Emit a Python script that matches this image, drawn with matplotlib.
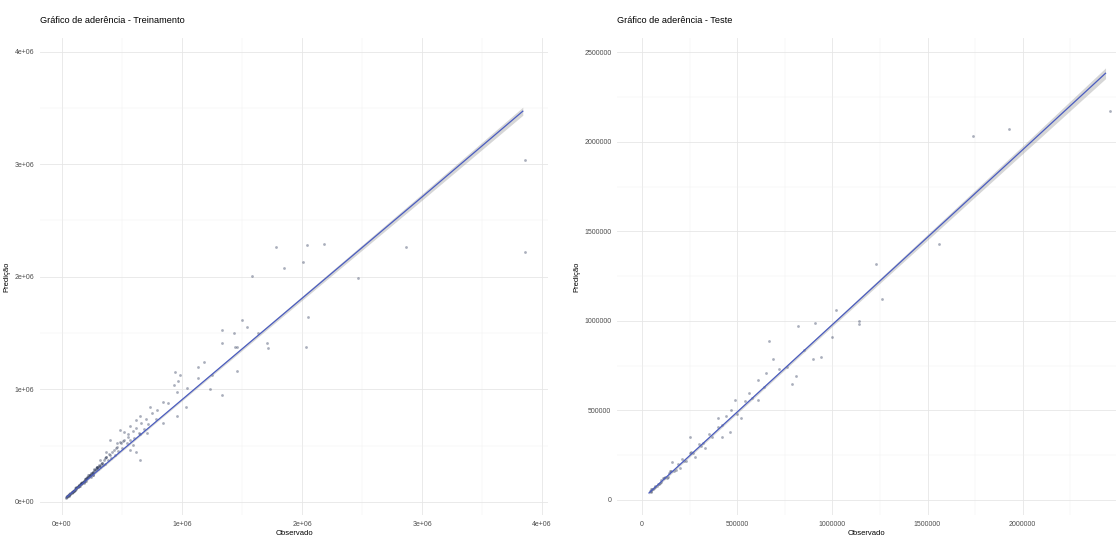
import numpy as np
import matplotlib
matplotlib.use("Agg")
import matplotlib.pyplot as plt
from matplotlib.ticker import FixedLocator, FixedFormatter

plt.rcParams['font.family'] = ['Liberation Sans', 'DejaVu Sans']

# ---------------- data (values in millions) ----------------
train_obs = [0.03, 0.04, 0.05, 0.05, 0.06, 0.06, 0.07, 0.07, 0.08, 0.08, 0.09, 0.09, 0.10, 0.10,
             0.11, 0.11, 0.12, 0.12, 0.13, 0.13, 0.14, 0.14, 0.15, 0.15, 0.16, 0.16, 0.17, 0.17,
             0.18, 0.18, 0.19, 0.19, 0.20, 0.20, 0.21, 0.22, 0.22, 0.23, 0.24, 0.24, 0.25, 0.26,
             0.26, 0.27, 0.28, 0.29, 0.30, 0.31, 0.32, 0.33, 0.34, 0.35, 0.36, 0.37, 0.38, 0.40,
             0.41, 0.43, 0.44, 0.46, 0.47, 0.49, 0.50, 0.52, 0.54, 0.55, 0.57, 0.59, 0.60, 0.62,
             0.64, 0.66, 0.68, 0.70, 0.72, 0.75, 0.78,
             0.035, 0.045, 0.055, 0.065, 0.075, 0.085, 0.095, 0.105, 0.115, 0.125, 0.135, 0.145,
             0.155, 0.165, 0.175, 0.185, 0.195, 0.205, 0.215, 0.225, 0.235, 0.245, 0.255, 0.265,
             0.275, 0.285, 0.295, 0.305, 0.315, 0.325, 0.04, 0.06, 0.08, 0.10, 0.12, 0.14, 0.16,
             0.18, 0.20, 0.23, 0.26, 0.29, 0.33, 0.36, 0.39, 0.42, 0.45, 0.48, 0.51, 0.55,
             0.26, 0.29, 0.32, 0.37, 0.37, 0.40, 0.46, 0.48, 0.52, 0.57, 0.57, 0.59, 0.62, 0.62,
             0.65, 0.65, 0.65, 0.71, 0.73, 0.79, 0.84, 0.84, 0.88, 0.96, 1.03,
             0.93, 0.94, 0.96, 0.97, 0.98, 1.04, 1.13, 1.13, 1.18, 1.23, 1.25, 1.33, 1.46,
             1.33, 1.43, 1.46, 1.50, 1.54, 1.63, 1.33, 1.44, 1.71, 1.72, 1.58, 1.78, 1.85,
             2.01, 2.04, 2.18, 2.03, 2.05, 2.47, 2.87, 3.86, 3.86]
train_pred = [0.04, 0.05, 0.05, 0.06, 0.06, 0.07, 0.07, 0.08, 0.08, 0.09, 0.09, 0.10, 0.10, 0.11,
              0.11, 0.12, 0.12, 0.13, 0.13, 0.14, 0.14, 0.15, 0.16, 0.14, 0.16, 0.17, 0.17, 0.18,
              0.19, 0.17, 0.19, 0.20, 0.21, 0.19, 0.22, 0.22, 0.24, 0.23, 0.25, 0.22, 0.26, 0.27,
              0.24, 0.29, 0.28, 0.31, 0.29, 0.33, 0.31, 0.35, 0.33, 0.37, 0.34, 0.40, 0.37, 0.42,
              0.39, 0.46, 0.42, 0.49, 0.45, 0.52, 0.48, 0.55, 0.52, 0.58, 0.55, 0.63, 0.57, 0.66,
              0.61, 0.70, 0.65, 0.74, 0.69, 0.79, 0.74,
              0.035, 0.05, 0.055, 0.07, 0.075, 0.09, 0.095, 0.11, 0.115, 0.13, 0.135, 0.15,
              0.155, 0.17, 0.18, 0.19, 0.20, 0.21, 0.22, 0.235, 0.24, 0.255, 0.26, 0.28,
              0.28, 0.30, 0.30, 0.32, 0.32, 0.34, 0.045, 0.06, 0.085, 0.10, 0.125, 0.14, 0.165,
              0.18, 0.205, 0.24, 0.27, 0.31, 0.35, 0.39, 0.43, 0.44, 0.48, 0.53, 0.54, 0.60,
              0.24, 0.31, 0.37, 0.44, 0.40, 0.55, 0.52, 0.64, 0.62, 0.46, 0.67, 0.51, 0.44, 0.73,
              0.37, 0.60, 0.76, 0.61, 0.84, 0.82, 0.89, 0.70, 0.88, 0.76, 0.84,
              1.04, 1.15, 0.98, 1.07, 1.13, 1.01, 1.20, 1.10, 1.24, 1.00, 1.13, 0.95, 1.16,
              1.53, 1.50, 1.38, 1.62, 1.55, 1.50, 1.41, 1.38, 1.41, 1.37, 2.01, 2.26, 2.08,
              2.13, 2.28, 2.29, 1.38, 1.64, 1.99, 2.26, 3.04, 2.22]

test_obs = [0.04, 0.05, 0.05, 0.06, 0.07, 0.07, 0.08, 0.09, 0.10, 0.10, 0.11, 0.12, 0.13, 0.14,
            0.15, 0.16, 0.17, 0.19, 0.20, 0.21, 0.23, 0.25, 0.25, 0.27, 0.28, 0.30, 0.32, 0.33,
            0.35, 0.37, 0.40, 0.40, 0.42, 0.42, 0.44, 0.46, 0.47, 0.49, 0.50, 0.52, 0.54, 0.56,
            0.58, 0.61, 0.61, 0.64, 0.65, 0.67, 0.69, 0.72, 0.76, 0.79, 0.81, 0.82, 0.85, 0.90,
            0.91, 0.94, 1.00, 1.02, 1.14, 1.14, 1.23, 1.26, 1.56, 1.74, 1.93, 2.46,
            0.045, 0.055, 0.065, 0.085, 0.095, 0.115, 0.135, 0.155, 0.18, 0.22, 0.26, 0.31]
test_pred = [0.05, 0.05, 0.06, 0.06, 0.07, 0.08, 0.08, 0.09, 0.10, 0.11, 0.12, 0.13, 0.12, 0.15,
             0.16, 0.21, 0.16, 0.20, 0.18, 0.23, 0.22, 0.26, 0.35, 0.26, 0.24, 0.31, 0.32, 0.29,
             0.37, 0.35, 0.41, 0.46, 0.42, 0.35, 0.47, 0.38, 0.50, 0.56, 0.48, 0.46, 0.55, 0.60,
             0.57, 0.67, 0.56, 0.63, 0.71, 0.89, 0.79, 0.73, 0.74, 0.65, 0.69, 0.97, 0.84, 0.79,
             0.99, 0.80, 0.91, 1.06, 0.98, 1.00, 1.32, 1.12, 1.43, 2.03, 2.07, 2.17,
             0.045, 0.06, 0.065, 0.09, 0.095, 0.12, 0.13, 0.16, 0.17, 0.22, 0.27, 0.30]

# fitted line (geom_smooth lm), with CI half-width
train_fit_obs = [0.04, 1.0, 2.0, 3.0, 3.84]
train_fit_pred = [0.044, 0.908, 1.808, 2.708, 3.47]
train_fit_half = [0.008, 0.010, 0.018, 0.028, 0.036]
test_fit_obs = [0.037, 1.0, 2.0, 2.435]
test_fit_pred = [0.039, 0.979, 1.956, 2.383]
test_fit_half = [0.007, 0.010, 0.022, 0.030]

train_ticks = [0, 1, 2, 3, 4]
train_ticklabels = ["0e+00", "1e+06", "2e+06", "3e+06", "4e+06"]
test_ticks = [0, 0.5, 1.0, 1.5, 2.0, 2.5]
test_ticklabels = ["0", "500000", "1000000", "1500000", "2000000", "2500000"]

titles = ["Gráfico de aderência - Treinamento", "Gráfico de aderência - Teste"]

# ---------------- figure ----------------
W, H = 1119, 537
fig = plt.figure(figsize=(W / 100, H / 100), dpi=100)
fig.patch.set_facecolor("white")


def px_axes(x0, y0, x1, y1):
    return fig.add_axes([x0 / W, 1 - y1 / H, (x1 - x0) / W, (y1 - y0) / H])


axL = px_axes(40, 38, 548, 515)
axR = px_axes(617, 38, 1116, 515)

panels = [
    (axL, train_obs, train_pred, train_fit_obs, train_fit_pred, train_fit_half,
     train_ticks, train_ticklabels, (-0.183, 4.05), (-0.116, 4.12), titles[0]),
    (axR, test_obs, test_pred, test_fit_obs, test_fit_pred, test_fit_half,
     test_ticks, test_ticklabels, (-0.131, 2.49), (-0.084, 2.58), titles[1]),
]

for ax, ox, py, fx, fy, fh, ticks, tlabels, xl, yl, title in panels:
    ox = np.array(ox) * 1e6
    py = np.array(py) * 1e6
    fx = np.array(fx) * 1e6
    fy = np.array(fy) * 1e6
    fh = np.array(fh) * 1e6
    t = np.array(ticks) * 1e6

    ax.set_facecolor("white")
    for s in ax.spines.values():
        s.set_visible(False)

    ax.set_xlim(xl[0] * 1e6, xl[1] * 1e6)
    ax.set_ylim(yl[0] * 1e6, yl[1] * 1e6)

    minor = (t[:-1] + t[1:]) / 2
    ax.xaxis.set_major_locator(FixedLocator(t))
    ax.yaxis.set_major_locator(FixedLocator(t))
    ax.xaxis.set_major_formatter(FixedFormatter(tlabels))
    ax.yaxis.set_major_formatter(FixedFormatter(tlabels))
    ax.xaxis.set_minor_locator(FixedLocator(minor))
    ax.yaxis.set_minor_locator(FixedLocator(minor))
    ax.grid(True, which="major", color="#e6e6e6", linewidth=0.6)
    ax.grid(True, which="minor", color="#f2f2f2", linewidth=0.35)
    ax.set_axisbelow(True)
    ax.tick_params(which="both", length=0, labelsize=5, labelcolor="#4d4d4d", pad=4)

    ax.scatter(ox, py, s=4, color="#1f2b4d", alpha=0.38, linewidths=0, zorder=2)
    ax.fill_between(fx, fy - fh, fy + fh, color="#999999", alpha=0.4, linewidth=0, zorder=3)
    ax.plot(fx, fy, color="#4a5cc0", linewidth=0.9, zorder=4)

    ax.set_xlabel("Observado", fontsize=5.5, labelpad=2)
    ax.set_ylabel("Predição", fontsize=5.5, labelpad=3)
    ax.set_title(title, fontsize=6.6, loc="left", pad=11, x=0.0)

fig.savefig("out.png", dpi=100, facecolor="white")
